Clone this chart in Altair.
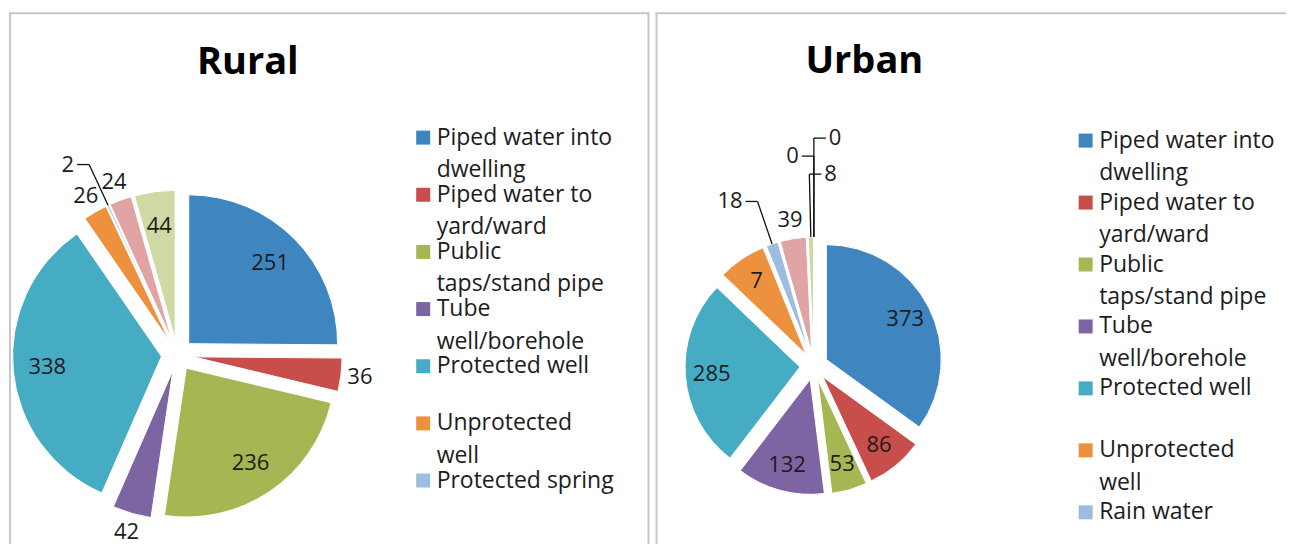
import json
import altair as alt
import pandas as pd

# ---------------- data ----------------
panel_names = ["Rural", "Urban"]

rural_categories = [
    "Piped water into dwelling", "Piped water to yard/ward", "Public taps/stand pipe",
    "Tube well/borehole", "Protected well", "Unprotected well", "Protected spring",
    "Unprotected spring", "Other",
]
rural_values = [251, 36, 236, 42, 338, 26, 2, 24, 44]
rural_labels = ["251", "36", "236", "42", "338", "26", "2", "24", "44"]

urban_categories = [
    "Piped water into dwelling", "Piped water to yard/ward", "Public taps/stand pipe",
    "Tube well/borehole", "Protected well", "Unprotected well", "Rain water",
    "Protected spring", "Unprotected spring", "Tanker truck", "Other",
]
urban_values = [373, 86, 53, 132, 285, 72, 18, 39, 8, 0, 0]
urban_labels = ["373", "86", "53", "132", "285", "7", "18", "39", "8", "0", "0"]

# legend text as wrapped in the original (only the first 7 entries are visible)
legend_lines = {
    "Piped water into dwelling": ["Piped water into", "dwelling"],
    "Piped water to yard/ward": ["Piped water to", "yard/ward"],
    "Public taps/stand pipe": ["Public", "taps/stand pipe"],
    "Tube well/borehole": ["Tube", "well/borehole"],
    "Protected well": ["Protected well", ""],
    "Unprotected well": ["Unprotected", "well"],
    "Protected spring": ["Protected spring"],
    "Rain water": ["Rain water"],
}
legend_count = 7

# ---------------- style ----------------
base_colors = ["#3F86C0", "#C84E4C", "#A5B752", "#7D64A3", "#46ACC3",
               "#EE913F", "#9DBDE0", "#E1A4A4", "#CFD9A3", "#8A7BB0", "#86C5D6"]
FONT = "Open Sans"
TEXT_COLOR = "#1c1c1c"
BORDER = "#c6c6c6"
H = 536


def panel(name, cats, vals, labs, width, cx, cy, R, D, title_xy, leg_xy, leg_pad, right_border):
    colors = base_colors[: len(cats)]
    df = pd.DataFrame({"cat": cats, "value": vals, "label": labs,
                       "order": list(range(len(cats)))})
    base = (
        alt.Chart(df)
        .transform_joinaggregate(total="sum(value)")
        .transform_window(cum="sum(value)", sort=[alt.SortField("order", order="ascending")],
                          frame=[None, 0])
        .transform_calculate(
            share="datum.value / datum.total",
            mid="2 * PI * (datum.cum - datum.value / 2) / datum.total",
        )
        .transform_calculate(
            cx=f"{cx} + {D} * sin(datum.mid)",
            cy=f"{cy} - {D} * cos(datum.mid)",
            tiny="datum.share < 0.02 ? 1 : 0",
        )
    )

    label_expr = json.dumps(legend_lines) + "[datum.label]"
    arcs = base.mark_arc(radius=R, stroke="white", strokeWidth=1).encode(
        theta=alt.Theta("value:Q", stack=True),
        order=alt.Order("order:Q"),
        color=alt.Color(
            "cat:N",
            scale=alt.Scale(domain=cats, range=colors),
            legend=alt.Legend(
                title=None, orient="none", legendX=leg_xy[0], legendY=leg_xy[1],
                symbolType="square", symbolSize=196, symbolStrokeWidth=0,
                labelFont=FONT, labelFontSize=23, labelColor=TEXT_COLOR,
                labelLimit=400, labelOffset=2, values=cats[:legend_count],
                labelExpr=label_expr, rowPadding=leg_pad, padding=0,
            ),
        ),
        x=alt.X("cx:Q", scale=None),
        y=alt.Y("cy:Q", scale=None),
    )

    lab = (
        base.transform_window(tk="row_number()", groupby=["tiny"],
                              sort=[alt.SortField("order", order="ascending")])
        .transform_calculate(
            side="(datum.tk - 1) % 2 == 0 ? -1 : 1",
            rad=(f"datum.share >= 0.044 ? {0.77 * R} : (datum.tiny ? "
                 f"{R + 45} + 18 * (datum.tk - 1) : {R + 19})"),
        )
        .transform_calculate(
            lx="datum.cx + datum.rad * sin(datum.mid)",
            ly="datum.cy - datum.rad * cos(datum.mid)",
            px=f"datum.cx + {R} * sin(datum.mid)",
            py=f"datum.cy - {R} * cos(datum.mid)",
        )
        .transform_calculate(ex="datum.lx + 12 * datum.side", tx="datum.lx + 15 * datum.side")
    )
    txt_kw = dict(font=FONT, fontSize=22, color=TEXT_COLOR, clip=True)
    normal = lab.transform_filter("datum.tiny == 0").mark_text(
        align="center", baseline="middle", **txt_kw
    ).encode(x=alt.X("lx:Q", scale=None), y=alt.Y("ly:Q", scale=None), text="label:N")
    tiny_left = lab.transform_filter("datum.tiny == 1 && datum.side < 0").mark_text(
        align="right", baseline="middle", **txt_kw
    ).encode(x=alt.X("tx:Q", scale=None), y=alt.Y("ly:Q", scale=None), text="label:N")
    tiny_right = lab.transform_filter("datum.tiny == 1 && datum.side > 0").mark_text(
        align="left", baseline="middle", **txt_kw
    ).encode(x=alt.X("tx:Q", scale=None), y=alt.Y("ly:Q", scale=None), text="label:N")
    lead1 = lab.transform_filter("datum.tiny == 1").mark_rule(color="#111", strokeWidth=1.3).encode(
        x=alt.X("px:Q", scale=None), y=alt.Y("py:Q", scale=None), x2="lx:Q", y2="ly:Q")
    lead2 = lab.transform_filter("datum.tiny == 1").mark_rule(color="#111", strokeWidth=1.3).encode(
        x=alt.X("lx:Q", scale=None), y=alt.Y("ly:Q", scale=None), x2="ex:Q", y2="ly:Q")

    one = pd.DataFrame({"t": [name]})
    title = alt.Chart(one).mark_text(
        font=FONT, fontSize=38, fontWeight="bold", color="#000",
        align="center", baseline="middle",
    ).encode(text="t:N", x=alt.value(title_xy[0]), y=alt.value(title_xy[1]))

    rule_kw = dict(color=BORDER, strokeWidth=2)
    borders = [
        alt.Chart(one).mark_rule(**rule_kw).encode(x=alt.value(2), y=alt.value(5), y2=alt.value(H)),
        alt.Chart(one).mark_rule(**rule_kw).encode(x=alt.value(1), x2=alt.value(width), y=alt.value(5)),
    ]
    if right_border is not None:
        borders[1] = alt.Chart(one).mark_rule(**rule_kw).encode(
            x=alt.value(1), x2=alt.value(right_border + 1), y=alt.value(5))
        borders.append(alt.Chart(one).mark_rule(**rule_kw).encode(
            x=alt.value(right_border), y=alt.value(5), y2=alt.value(H)))

    return alt.layer(*borders, arcs, lead1, lead2, normal, tiny_left, tiny_right, title).properties(
        width=width, height=H)


rural = panel(panel_names[0], rural_categories, rural_values, rural_labels, 647,
              169.5, 347, 149, 16, (240, 55), (404, 118), 1.2, 641)
urban = panel(panel_names[1], urban_categories, urban_values, urban_labels, 632,
              159.5, 358, 115, 14, (210, 54), (420, 121), 6, None)

chart = (
    alt.hconcat(rural, urban, spacing=0, bounds="flush", padding=0)
    .resolve_scale(color="independent")
    .resolve_legend(color="independent")
    .configure(style={"guide-label": {"lineHeight": 32.5}})
    .configure_view(stroke=None)
)

chart.save("out.html", embed_options={"renderer": "svg", "actions": False})
